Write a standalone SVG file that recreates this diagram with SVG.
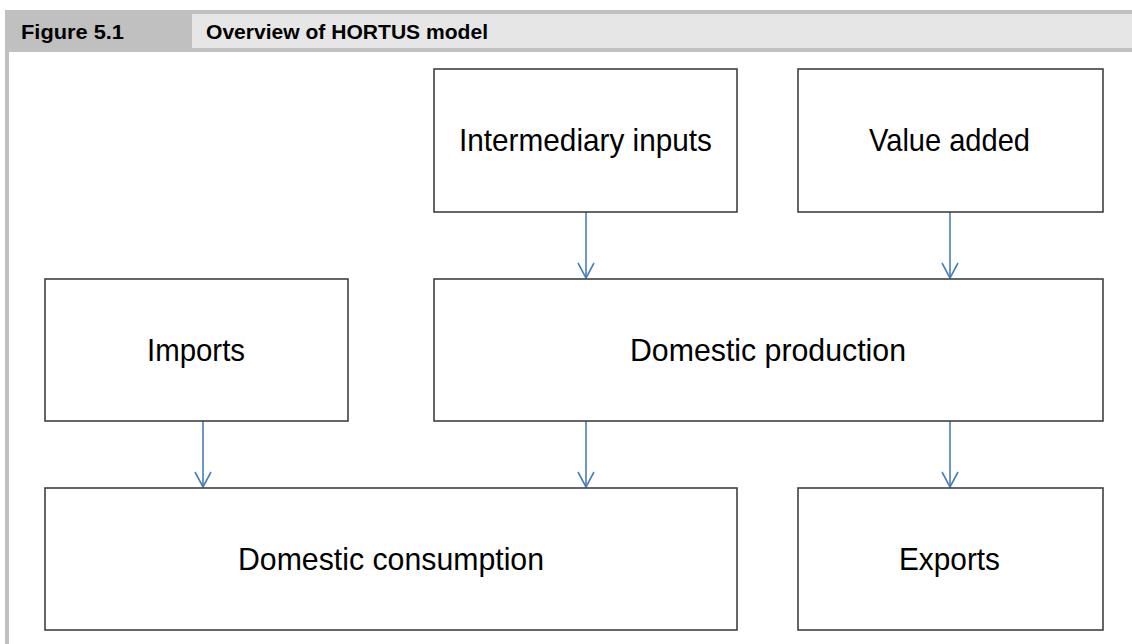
<svg xmlns="http://www.w3.org/2000/svg" width="1132" height="644" viewBox="0 0 1132 644">
  <style>
    .box { fill: #ffffff; stroke: #404040; stroke-width: 1.6; }
    .label { font-family: "Liberation Sans", Arial, sans-serif; font-size: 32px; fill: #000000; text-anchor: middle; dominant-baseline: central; }
    .head { font-family: "Liberation Sans", Arial, sans-serif; font-size: 21px; font-weight: bold; fill: #000000; }
    .link { stroke: #4a7ebb; stroke-width: 1.6; fill: none; }
  </style>

  <rect width="1132" height="644" fill="#ffffff"/>

  <!-- caption band -->
  <g id="caption">
    <rect x="5" y="10" width="1127" height="42" fill="#c0c0c0"/>
    <rect x="192" y="14" width="940" height="34" fill="#e6e6e6"/>
    <rect x="5" y="52" width="4" height="592" fill="#c0c0c0"/>
    <text class="head" x="21" y="39" textLength="103" lengthAdjust="spacingAndGlyphs">Figure 5.1</text>
    <text class="head" x="206" y="39" textLength="282" lengthAdjust="spacingAndGlyphs">Overview of HORTUS model</text>
  </g>

  <g id="connectors">
    <line class="link" x1="586" y1="212" x2="586" y2="278"/>
    <line class="link" x1="950" y1="212" x2="950" y2="278"/>
    <line class="link" x1="203" y1="421" x2="203" y2="487"/>
    <line class="link" x1="586" y1="421" x2="586" y2="487"/>
    <line class="link" x1="950" y1="421" x2="950" y2="487"/>
    <path class="link" d="M578 263 L586 278 L594 263"/>
    <path class="link" d="M942 263 L950 278 L958 263"/>
    <path class="link" d="M195 472 L203 487 L211 472"/>
    <path class="link" d="M578 472 L586 487 L594 472"/>
    <path class="link" d="M942 472 L950 487 L958 472"/>
  </g>

  <g id="intermediary-inputs">
    <rect class="box" x="434" y="69" width="303" height="143"/>
    <text class="label" x="585.5" y="140" textLength="253" lengthAdjust="spacingAndGlyphs">Intermediary inputs</text>
  </g>
  <g id="value-added">
    <rect class="box" x="798" y="69" width="305" height="143"/>
    <text class="label" x="949.5" y="140" textLength="161" lengthAdjust="spacingAndGlyphs">Value added</text>
  </g>
  <g id="imports">
    <rect class="box" x="45" y="279" width="303" height="142"/>
    <text class="label" x="196" y="350" textLength="98" lengthAdjust="spacingAndGlyphs">Imports</text>
  </g>
  <g id="domestic-production">
    <rect class="box" x="434" y="279" width="669" height="142"/>
    <text class="label" x="768" y="350" textLength="276" lengthAdjust="spacingAndGlyphs">Domestic production</text>
  </g>
  <g id="domestic-consumption">
    <rect class="box" x="45" y="488" width="692" height="142"/>
    <text class="label" x="391" y="559" textLength="306" lengthAdjust="spacingAndGlyphs">Domestic consumption</text>
  </g>
  <g id="exports">
    <rect class="box" x="798" y="488" width="305" height="142"/>
    <text class="label" x="949.5" y="559" textLength="101" lengthAdjust="spacingAndGlyphs">Exports</text>
  </g>
</svg>
